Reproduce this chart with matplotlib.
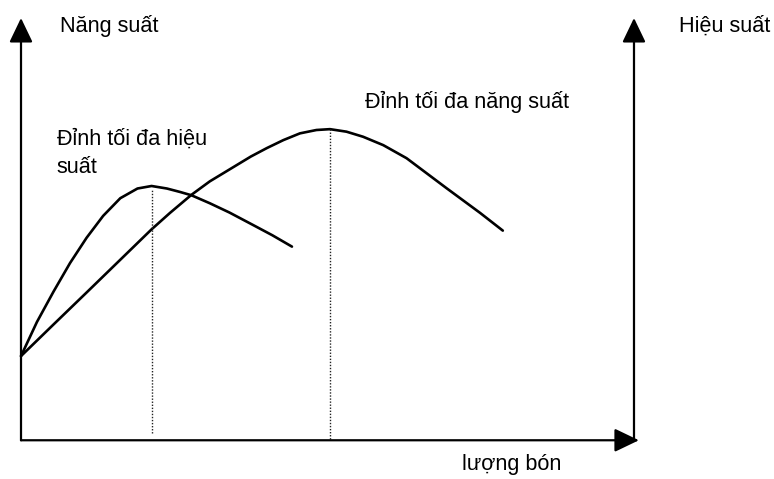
import numpy as np
import matplotlib
matplotlib.use("Agg")
import matplotlib.pyplot as plt

# fertilizer amount (x) vs. relative value (y)
eff_x = [0.0, 0.26, 0.53, 0.80, 1.07, 1.34, 1.62, 1.90, 2.13, 2.38, 2.59, 2.78, 3.08, 3.40, 3.79, 4.10, 4.42]
eff_y = [1.97, 2.78, 3.50, 4.18, 4.78, 5.30, 5.72, 5.95, 6.01, 5.95, 5.87, 5.79, 5.60, 5.38, 5.08, 4.84, 4.57]

yield_x = [0.0, 0.53, 1.07, 1.60, 2.13, 2.43, 2.78, 3.08, 3.75, 4.01, 4.28, 4.55, 4.82, 5.04,
           5.31, 5.58, 5.91, 6.29, 6.94, 7.49, 7.86]
yield_y = [1.97, 2.72, 3.48, 4.23, 4.98, 5.37, 5.80, 6.12, 6.71, 6.91, 7.10, 7.26, 7.34, 7.36,
           7.30, 7.18, 6.98, 6.67, 5.96, 5.37, 4.95]

x_label = "lượng bón"
y_left_label = "Năng suất"
y_right_label = "Hiệu suất"
peak_yield_label = "Đỉnh tối đa năng suất"
peak_eff_label = ["Đỉnh tối đa hiệu", "suất"]

x_max = 10.0
y_max = 10.0

plt.rcParams['font.family'] = ['Liberation Sans', 'DejaVu Sans']

fig = plt.figure(figsize=(7.74, 4.79), dpi=100)
ax = fig.add_axes([0, 0, 1, 1])
ax.set_xlim(-0.3426, 12.284)
ax.set_ylim(-0.95, 10.428)
ax.axis('off')

arrow = dict(arrowstyle='-|>,head_length=0.75,head_width=0.36', mutation_scale=20,
             color='black', lw=1.6, shrinkA=0, shrinkB=0)
ax.annotate('', xy=(0, y_max), xytext=(0, -0.03), arrowprops=arrow)
ax.annotate('', xy=(x_max, y_max), xytext=(x_max, -0.03), arrowprops=arrow)
ax.annotate('', xy=(x_max + 0.08, -0.03), xytext=(0, -0.03), arrowprops=arrow)

ax.plot(eff_x, eff_y, color='black', lw=1.9, solid_joinstyle='round', solid_capstyle='round')
ax.plot(yield_x, yield_y, color='black', lw=1.9, solid_joinstyle='round', solid_capstyle='round')

# dotted drop lines from each peak
i_eff = int(np.argmax(eff_y))
i_yld = int(np.argmax(yield_y))
ax.plot([eff_x[i_eff]] * 2, [0.15, eff_y[i_eff] - 0.1], color='#222222', lw=1.0, ls=(0, (1, 1.2)))
ax.plot([yield_x[i_yld]] * 2, [0.0, yield_y[i_yld]], color='#222222', lw=1.0, ls=(0, (1, 1.2)))

fs = 15.6
ax.text(0.64, 9.67, y_left_label, fontsize=fs, va='baseline', ha='left')
ax.text(10.73, 9.67, y_right_label, fontsize=fs, va='baseline', ha='left')
ax.text(5.61, 7.86, peak_yield_label, fontsize=fs, va='baseline', ha='left')
ax.text(0.58, 6.98, peak_eff_label[0], fontsize=fs, va='baseline', ha='left')
ax.text(0.58, 6.32, peak_eff_label[1], fontsize=fs, va='baseline', ha='left')
ax.text(7.19, -0.74, x_label, fontsize=fs, va='baseline', ha='left')

fig.savefig("out.png", dpi=100)
